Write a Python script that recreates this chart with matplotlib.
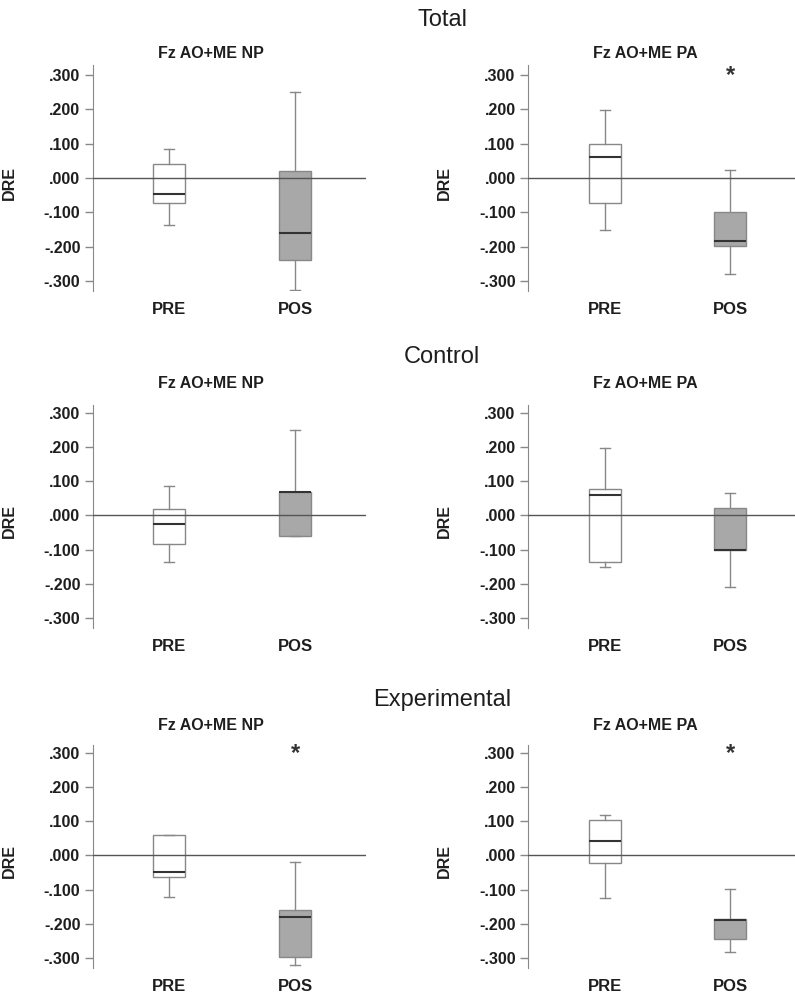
import matplotlib
matplotlib.use("Agg")
import matplotlib.pyplot as plt

plt.rcParams['font.family'] = ['Liberation Sans', 'DejaVu Sans']

groups = ["Total", "Control", "Experimental"]
measures = ["Fz AO+ME NP", "Fz AO+ME PA"]
times = ["PRE", "POS"]

# five-number summaries: whisker low, Q1, median, Q3, whisker high
total_np_pre = [-0.136, -0.073, -0.047, 0.040, 0.084]
total_np_pos = [-0.327, -0.240, -0.159, 0.021, 0.250]
total_pa_pre = [-0.150, -0.072, 0.060, 0.098, 0.197]
total_pa_pos = [-0.280, -0.198, -0.183, -0.099, 0.023]
control_np_pre = [-0.136, -0.082, -0.026, 0.020, 0.085]
control_np_pos = [-0.059, -0.059, 0.068, 0.068, 0.251]
control_pa_pre = [-0.151, -0.135, 0.060, 0.078, 0.197]
control_pa_pos = [-0.209, -0.100, -0.100, 0.023, 0.065]
exp_np_pre = [-0.121, -0.062, -0.048, 0.061, 0.061]
exp_np_pos = [-0.320, -0.296, -0.180, -0.158, -0.020]
exp_pa_pre = [-0.123, -0.022, 0.042, 0.103, 0.117]
exp_pa_pos = [-0.281, -0.243, -0.189, -0.186, -0.099]

# significance marker above POS box
signif = [[False, True], [False, False], [True, True]]

yticks = [0.3, 0.2, 0.1, 0.0, -0.1, -0.2, -0.3]
ytick_labels = [".300", ".200", ".100", ".000", "-.100", "-.200", "-.300"]

data = [
    [(total_np_pre, total_np_pos), (total_pa_pre, total_pa_pos)],
    [(control_np_pre, control_np_pos), (control_pa_pre, control_pa_pos)],
    [(exp_np_pre, exp_np_pos), (exp_pa_pre, exp_pa_pos)],
]

W, H = 795, 999
fig = plt.figure(figsize=(W / 100, H / 100), dpi=100)

# pixel layout (left, right) per column, (top, bottom) per row
cols = [(93, 366), (528, 795)]
rows = [(65, 291), (405, 628), (745, 968)]
xlims = [(0.397, 2.563), (0.384, 2.52)]
ylims = [(-0.329, 0.329), (-0.329, 0.323), (-0.329, 0.323)]
title_x = [211, 645]
title_y = [53, 384, 726]
group_y = [20, 357, 700]
ylabel_x = [17, 452]

edge = "#888888"
fill_pos = "#a8a8a8"
dark = "#1e1e1e"

for r in range(3):
    fig.text(442 / W, 1 - group_y[r] / H, groups[r], ha="center", va="center",
             fontsize=17, color=dark)
    for c in range(2):
        x0, x1 = cols[c]
        t, b = rows[r]
        ax = fig.add_axes([x0 / W, 1 - b / H, (x1 - x0) / W, (b - t) / H])
        stats = []
        for name, s in zip(times, data[r][c]):
            stats.append(dict(label=name, whislo=s[0], q1=s[1], med=s[2],
                              q3=s[3], whishi=s[4], fliers=[]))
        bp = ax.bxp(stats, positions=[1, 2], widths=0.254, capwidths=0.08,
                    patch_artist=True, showfliers=False,
                    boxprops=dict(edgecolor=edge, linewidth=1.0),
                    whiskerprops=dict(color=edge, linewidth=1.0),
                    capprops=dict(color=edge, linewidth=1.0),
                    medianprops=dict(color="#333333", linewidth=1.5))
        bp["boxes"][0].set_facecolor("white")
        bp["boxes"][1].set_facecolor(fill_pos)
        ax.axhline(0, color="#555555", linewidth=1.0, zorder=5)

        ax.set_xlim(*xlims[c])
        ax.set_ylim(*ylims[r])
        ax.set_yticks(yticks)
        ax.set_yticklabels(ytick_labels, fontsize=11.5, fontweight="bold",
                           color=dark)
        ax.set_xticks([1, 2])
        ax.set_xticklabels(times, fontsize=12, fontweight="bold", color=dark)
        ax.tick_params(axis="x", length=0, pad=8)
        ax.tick_params(axis="y", length=6, width=1, color=edge, pad=3)
        for side in ["top", "right", "bottom"]:
            ax.spines[side].set_visible(False)
        ax.spines["left"].set_color(edge)
        ax.set_ylabel("DRE", fontsize=11.5, fontweight="bold", color=dark)
        ax.yaxis.set_label_coords((ylabel_x[c] - x0) / (x1 - x0), 0.48)
        ax.set_facecolor("none")

        fig.text(title_x[c] / W, 1 - title_y[r] / H, measures[c], ha="center",
                 va="center", fontsize=11.5, fontweight="bold", color=dark)
        if signif[r][c]:
            ax.text(2, 0.298, "*", ha="center", va="center", fontsize=17,
                    fontweight="bold", color="#333333")

fig.savefig("out.png", dpi=100)
